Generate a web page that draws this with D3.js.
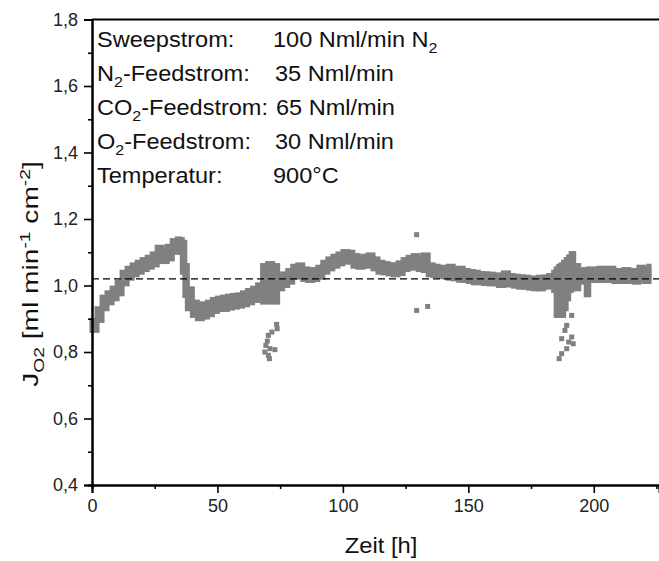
<!DOCTYPE html>
<html>
<head>
<meta charset="utf-8">
<script src="https://cdnjs.cloudflare.com/ajax/libs/d3/7.8.5/d3.min.js"></script>
<style>
  body { margin: 0; background: #fff; }
  svg { display: block; font-family: "Liberation Sans", Arial, sans-serif; }
</style>
</head>
<body>
<div id="chart"></div>
<script>
// measured flux vs. time, read off the figure
// band of the dense scatter: lower / upper edge per time step
var zeit = [0,2,4,6,8,10,12,14,16,18,20,22,24,26,28,30,32,34,35,36,37,38,40,42,44,46,48,50,
  52,54,56,58,60,62,64,66,68,70,72,74,76,78,80,82,84,86,88,90,92,94,96,98,100,102,104,106,108,110,
  112,114,116,118,120,122,124,126,128,130,132,134,136,138,140,142,144,146,148,150,152,154,156,158,160,
  162,164,166,168,170,172,174,176,178,180,182,184,185,186,187,188,189,190,191,192,194,196,197,198,
  200,202,204,206,208,210,212,214,216,218,220,222];
var jMin = [0.865,0.895,0.930,0.948,0.960,0.975,1.005,1.022,1.032,1.040,1.048,1.055,1.062,1.075,1.072,1.080,1.100,1.108,1.100,1.040,0.970,0.930,0.910,0.900,0.905,0.912,0.922,0.930,
  0.928,0.932,0.935,0.938,0.942,0.948,0.955,0.962,0.950,0.955,0.950,0.990,1.000,1.010,1.025,1.030,1.018,1.015,1.018,1.025,1.040,1.050,1.058,1.065,1.072,1.070,1.058,1.055,1.058,1.060,
  1.050,1.040,1.038,1.035,1.032,1.036,1.048,1.052,1.055,1.048,1.045,1.032,1.030,1.028,1.026,1.022,1.020,1.016,1.015,1.012,1.008,1.010,1.006,1.005,1.005,
  1.000,1.002,1.002,0.998,0.995,0.995,0.992,0.990,0.990,0.995,0.998,0.985,0.910,0.910,0.910,0.930,0.960,0.985,0.990,0.990,1.010,1.012,0.972,1.015,
  1.015,1.018,1.015,1.018,1.012,1.015,1.012,1.015,1.010,1.018,1.012,1.020];
var jMax = [0.895,0.930,0.965,0.978,0.992,1.010,1.040,1.052,1.062,1.070,1.078,1.085,1.095,1.115,1.102,1.118,1.135,1.140,1.138,1.130,1.060,0.990,0.950,0.940,0.945,0.950,0.958,0.962,
  0.965,0.968,0.970,0.972,0.978,0.985,0.992,1.002,1.060,1.066,1.060,1.025,1.035,1.045,1.058,1.062,1.050,1.045,1.048,1.055,1.070,1.080,1.088,1.095,1.102,1.100,1.090,1.085,1.088,1.092,
  1.080,1.070,1.066,1.062,1.062,1.068,1.078,1.085,1.090,1.082,1.092,1.062,1.058,1.055,1.052,1.058,1.050,1.052,1.045,1.042,1.040,1.036,1.035,1.034,1.032,
  1.030,1.038,1.030,1.028,1.026,1.025,1.022,1.022,1.025,1.025,1.030,1.040,1.050,1.058,1.062,1.070,1.078,1.086,1.096,1.060,1.045,1.048,1.045,1.050,
  1.048,1.052,1.050,1.052,1.045,1.045,1.048,1.045,1.045,1.055,1.050,1.058];

// isolated points away from the band
var ausreisserZeit = [68.9,69.3,69.9,70.3,70.3,70.7,70.9,71.7,72.9,73.6,73.8,
  129.4,129.4,133.8,
  186.2,187.2,187.2,188.5,189.2,189.2,190.0,191.2,191.2,191.8];
var ausreisserJ = [0.800,0.820,0.833,0.850,0.790,0.780,0.810,0.860,0.807,0.883,0.870,
  1.153,0.925,0.937,
  0.780,0.795,0.840,0.865,0.880,0.810,0.830,0.910,0.845,0.825];

var referenz = 1.02;

var xTicks = [0,50,100,150,200];
var xMinor = [25,75,125,175,225];
var yTicks = [0.4,0.6,0.8,1.0,1.2,1.4,1.6,1.8];
var yMinor = [0.5,0.7,0.9,1.1,1.3,1.5,1.7];

var infoLabels = ["Sweepstrom:", "N|2|-Feedstrom:", "CO|2|-Feedstrom:", "O|2|-Feedstrom:", "Temperatur:"];
var infoValues = ["100 Nml/min N|2", "35 Nml/min", "65 Nml/min", "30 Nml/min", "900°C"];

var width = 659, height = 561;
var plotL = 92, plotR = 659, plotT = 19.5, plotB = 485;
var marker = 5; // size of the square scatter symbols

var svg = d3.select("#chart").append("svg")
  .attr("width", width)
  .attr("height", height);

var x = d3.scaleLinear().domain([0, 226]).range([plotL, plotR]);
var y = d3.scaleLinear().domain([0.4, 1.8]).range([plotB, plotT]);

var komma = d3.formatLocale({decimal: ",", thousands: ".", grouping: [3], currency: ["", "€"]}).format(".1f");

// data band, one rect per sample, padded by the symbol size
var grau = "#808080";
var band = svg.append("g");
band.selectAll("rect.bar")
  .data(zeit)
  .enter()
  .append("rect")
  .attr("class", "bar")
  .attr("x", function(d){ return x(d) - marker / 2; })
  .attr("width", function(d, i){
    var next = i < zeit.length - 1 ? zeit[i+1] : d;
    return x(next) - x(d) + marker;
  })
  .attr("y", function(d, i){ return y(jMax[i]) - marker / 2; })
  .attr("height", function(d, i){ return y(jMin[i]) - y(jMax[i]) + marker; })
  .attr("fill", grau);

band.selectAll("rect.out")
  .data(ausreisserZeit)
  .enter()
  .append("rect")
  .attr("class", "out")
  .attr("x", function(d){ return x(d) - marker / 2; })
  .attr("y", function(d, i){ return y(ausreisserJ[i]) - marker / 2; })
  .attr("width", marker)
  .attr("height", marker)
  .attr("fill", grau);

// dashed reference line
svg.append("line")
  .attr("x1", x(0)).attr("x2", plotR)
  .attr("y1", y(referenz)).attr("y2", y(referenz))
  .attr("stroke", "#000")
  .attr("stroke-width", 1.3)
  .attr("stroke-dasharray", "7,4");

// frame line on top
svg.append("line")
  .attr("x1", plotL).attr("x2", plotR)
  .attr("y1", plotT).attr("y2", plotT)
  .attr("stroke", "#000").attr("stroke-width", 2);

// axes
svg.append("g")
  .attr("transform", "translate(0," + plotB + ")")
  .call(d3.axisBottom(x).tickValues(xTicks).tickSize(8).tickPadding(6).tickFormat(d3.format("d")));
svg.append("g")
  .attr("transform", "translate(0," + plotB + ")")
  .call(d3.axisBottom(x).tickValues(xMinor).tickSize(4).tickFormat(""));

svg.append("g")
  .attr("transform", "translate(" + plotL + ",0)")
  .call(d3.axisLeft(y).tickValues(yTicks).tickSize(8).tickPadding(6).tickFormat(komma));
svg.append("g")
  .attr("transform", "translate(" + plotL + ",0)")
  .call(d3.axisLeft(y).tickValues(yMinor).tickSize(4).tickFormat(""));

svg.selectAll(".domain").attr("stroke-width", 2).attr("stroke", "#000");
svg.selectAll(".tick line").attr("stroke-width", 1.6).attr("stroke", "#000");
svg.selectAll(".tick text")
  .style("font-family", "'Liberation Sans', Arial, sans-serif")
  .style("font-size", "18px")
  .attr("fill", "#222");

// text with sub/superscripts, parts split by "|"
function richText(sel, str, size, shift) {
  var parts = str.split("|");
  parts.forEach(function(p, i){
    if (i % 2 === 1) {
      sel.append("tspan").attr("font-size", size * 0.68).attr("dy", shift).text(p);
    } else {
      var t = sel.append("tspan").text(p);
      if (i > 0) t.attr("dy", -shift);
    }
  });
}

var valueX = [273, 275, 276, 275, 273];
var info = svg.append("g").attr("font-size", 22).attr("fill", "#111");
infoLabels.forEach(function(lab, i){
  var by = 47 + i * 34;
  var g = info.append("g").attr("transform", "translate(0," + by + ") scale(1.07,1)");
  richText(g.append("text").attr("x", 97 / 1.07).attr("y", 0), lab, 22, 6);
  richText(g.append("text").attr("x", valueX[i] / 1.07).attr("y", 0), infoValues[i], 22, 6);
});

// axis titles
svg.append("text")
  .attr("transform", "translate(381,553) scale(1.08,1)")
  .attr("text-anchor", "middle")
  .attr("font-size", 22)
  .attr("fill", "#111")
  .text("Zeit [h]");

var yl = svg.append("text")
  .attr("transform", "translate(38,274) rotate(-90) scale(1.28,1)")
  .attr("text-anchor", "middle")
  .attr("font-size", 22)
  .attr("fill", "#111");
yl.append("tspan").text("J");
yl.append("tspan").attr("font-size", 15).attr("dy", 6).text("O2");
yl.append("tspan").attr("dy", -6).text(" [ml min");
yl.append("tspan").attr("font-size", 15).attr("dy", -8).text("-1");
yl.append("tspan").attr("dy", 8).text(" cm");
yl.append("tspan").attr("font-size", 15).attr("dy", -8).text("-2");
yl.append("tspan").attr("dy", 8).text("]");
</script>
</body>
</html>
